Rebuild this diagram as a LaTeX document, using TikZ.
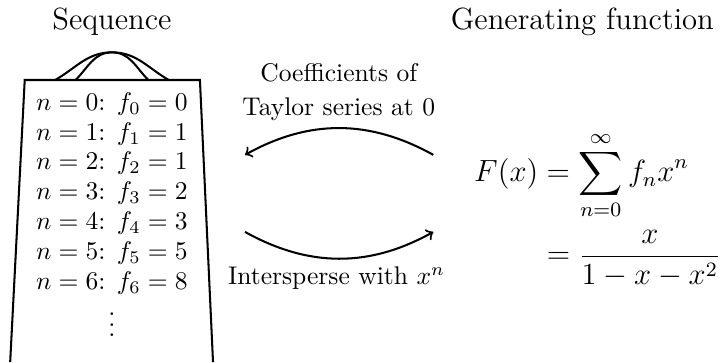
\documentclass[tikz,border=0pt]{standalone}
\usepackage{amsmath}
\usepackage{tikz}

\begin{document}
\begin{tikzpicture}[thick, heading/.style={font=\large}, map/.style={->}]
  \useasboundingbox (0,0) rectangle (10,4.98);
  \node[heading] (seq) at (1.54, 4.68) {Sequence};
  \node[heading] (gen) at (8.01, 4.68) {Generating function};
  % the box with its handle
  \coordinate (peak) at (1.54,4.26);
  \draw (0.14,0) -- (0.34,3.88) -- (2.75,3.88) -- (2.93,0);
  \draw (0.76,3.88) to[out=30,in=180] (peak) to[out=0,in=150] (2.32,3.88);
  \draw (1.04,3.88) to[out=45,in=180] (peak) to[out=0,in=135] (2.04,3.88);
  \foreach \n/\f in {0/0,1/1,2/1,3/2,4/3,5/5,6/8}
    \node (row\n) at (1.54, 3.55-0.41*\n) {$n=\n$: $f_{\n}=\f$};
  \node (dots) at (1.54, 0.62) {$\vdots$};
  % arrows
  \coordinate (fr) at (5.96,2.85);
  \coordinate (fl) at (3.37,2.85);
  \coordinate (gl) at (3.37,1.79);
  \coordinate (gr) at (5.96,1.79);
  \draw[map] (fr) to[bend right=29] (fl);
  \draw[map] (gl) to[bend right=29] (gr);
  \node[align=center] (taylor) at (4.66,3.71) {Coefficients of\\[1.5pt] Taylor series at 0};
  \node (inter) at (4.63,1.155) {Intersperse with $x^n$};
  \node[font=\large] (gf) at (8.22,2.10)
    {$\begin{aligned} F(x) &= \sum_{n=0}^{\infty} f_n x^n \\ &= \frac{x}{1-x-x^2} \end{aligned}$};
\end{tikzpicture}
\end{document}
